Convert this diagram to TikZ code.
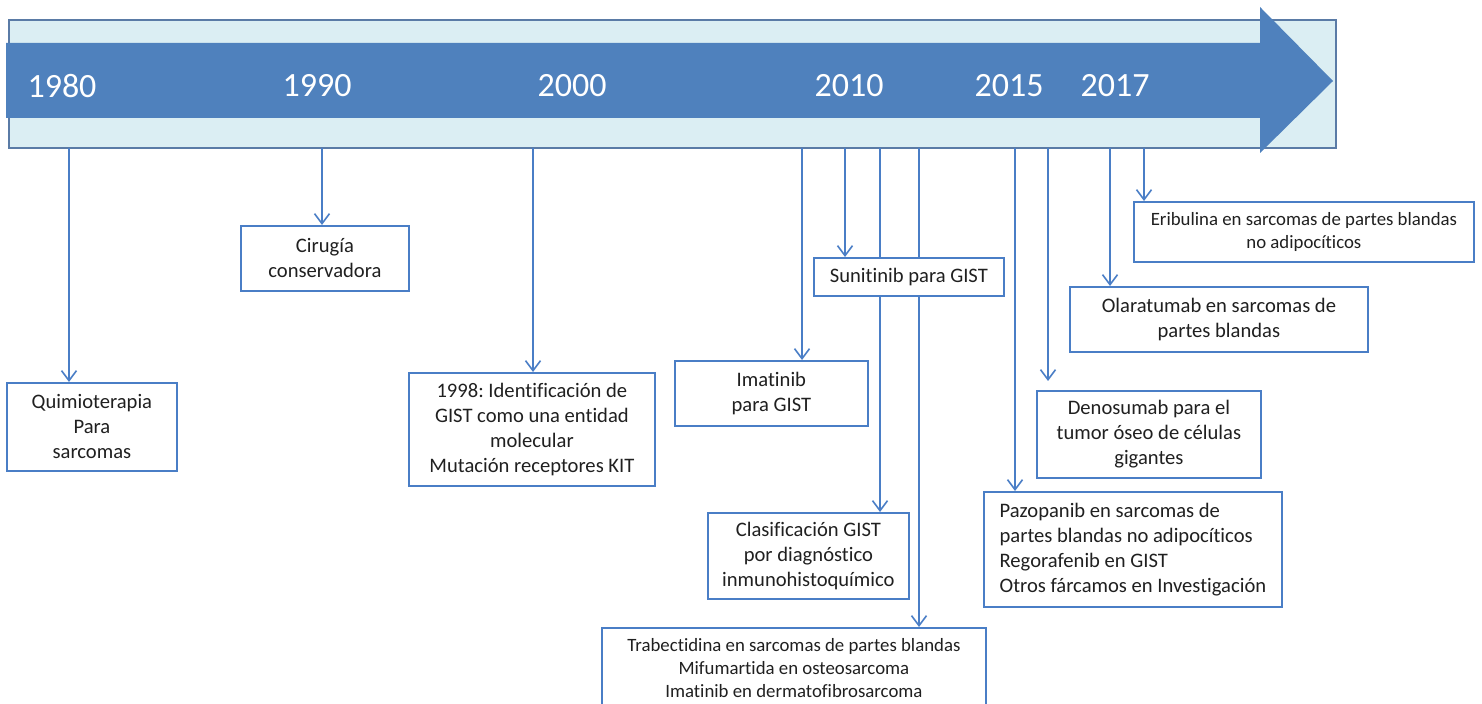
\documentclass[tikz,border=0pt]{standalone}
\usepackage{fontspec}
\setmainfont{Carlito}[Ligatures=NoCommon]
\frenchspacing
\usetikzlibrary{arrows.meta}
\pgfdeclarelayer{back}
\pgfsetlayers{back,main}
\definecolor{barblue}{HTML}{4F81BD}
\definecolor{barpale}{HTML}{DBEEF3}
\definecolor{barline}{HTML}{5A7BA6}
\definecolor{boxblue}{HTML}{4A7EC6}
\definecolor{txt}{HTML}{202020}

\begin{document}
\begin{tikzpicture}[x=0.5pt, y=-0.5pt,
    every node/.style={font=\fontsize{10.3}{12.5}\selectfont, text=txt},
    evbox/.style={draw=boxblue, line width=0.9pt, fill=white, align=center, inner sep=0pt, anchor=north west},
    small/.style={font=\fontsize{9.4}{11.5}\selectfont},
    year/.style={font=\fontsize{17}{20}\selectfont, text=white},
    conn/.style={draw=boxblue, line width=0.8pt, -{Straight Barb[length=5pt,width=7.5pt]}}]
  \useasboundingbox (0,0) rectangle (1482,704);
  \clip (0,0) rectangle (1482,704);

  % event boxes
  \node[evbox, minimum width=85pt, minimum height=44pt] (quimio) at (6,382) {Quimioterapia\\Para\\sarcomas};
  \node[evbox, minimum width=84pt, minimum height=32.5pt] (ciru) at (240,225) {Cirugía\\conservadora};
  \node[evbox, minimum width=123pt, minimum height=56.5pt] (gist) at (408,372) {1998: Identificación de\\GIST como una entidad\\molecular\\Mutación receptores KIT};
  \node[evbox, minimum width=96.5pt, minimum height=32.5pt] (ima) at (674,360) {Imatinib\\para GIST};
  \node[evbox, minimum width=95pt, minimum height=19pt] (suni) at (813,257) {Sunitinib para GIST};
  \node[evbox, minimum width=100.5pt, minimum height=43pt] (clasif) at (707,512) {Clasificación GIST\\por diagnóstico\\inmunohistoquímico};
  \node[evbox, small, minimum width=192pt, minimum height=40pt] (trab) at (601,627) {Trabectidina en sarcomas de partes blandas\\Mifumartida en osteosarcoma\\Imatinib en dermatofibrosarcoma};
  \node[evbox, align=left, minimum width=149pt, minimum height=57.5pt] (pazo) at (983,491) {Pazopanib en sarcomas de\\partes blandas no adipocíticos\\Regorafenib en GIST\\Otros fárcamos en Investigación};
  \node[evbox, minimum width=112pt, minimum height=43.5pt] (deno) at (1036,390) {Denosumab para el\\tumor óseo de células\\gigantes};
  \node[evbox, minimum width=149pt, minimum height=32.5pt] (olara) at (1069,286) {Olaratumab en sarcomas de\\partes blandas};
  \node[evbox, small, minimum width=170pt, minimum height=30pt] (eri) at (1133,201) {Eribulina en sarcomas de partes blandas\\no adipocíticos};

  \begin{pgfonlayer}{back}
    % time bar
    \draw[barline, fill=barpale, line width=0.8pt] (9,20) rectangle (1336,148);
    \fill[barblue] (6,43) -- (1260,43) -- (1260,7) -- (1333,81) -- (1260,153) -- (1260,118) -- (6,118) -- cycle;
    \foreach \yr/\x in {1980/62,1990/317,2000/572,2010/849,2015/1009,2017/1115}
      \node[year] (y\yr) at (\x,86) {\yr};
    % connectors
    \foreach \x [count=\i] in {69,322,533,802,845,880,919,1015,1048,1110,1144}
      \coordinate (t\i) at (\x,148);
    \foreach \i/\b in {1/quimio,2/ciru,3/gist,4/ima,5/suni,6/clasif,7/trab,8/pazo,10/olara,11/eri}
      \draw[conn] (t\i) -- (t\i |- \b.north);
    \draw[conn, shorten >=4.5pt] (t9) -- (t9 |- deno.north);
  \end{pgfonlayer}
\end{tikzpicture}
\end{document}
